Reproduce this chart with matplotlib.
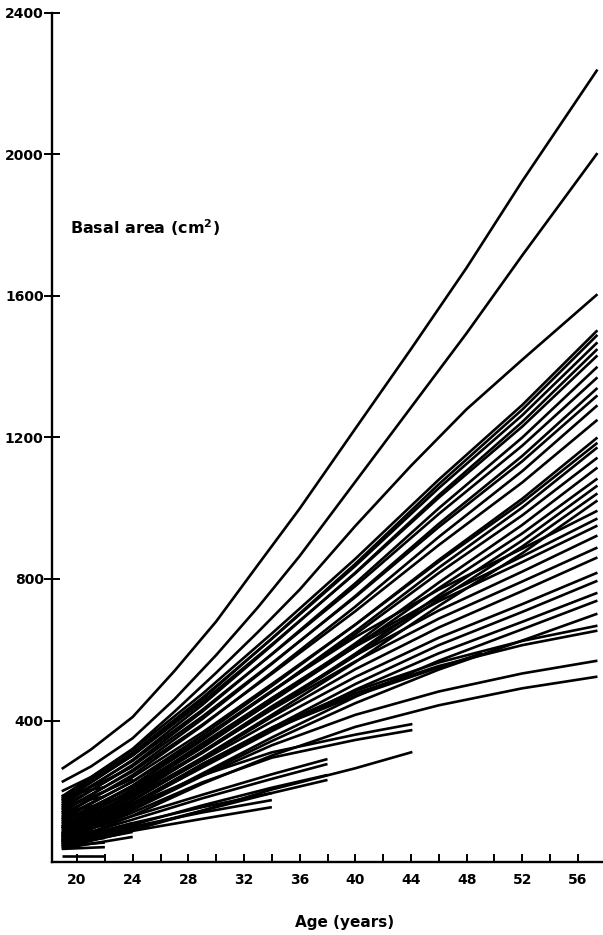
import matplotlib
matplotlib.use("Agg")
from matplotlib import pyplot as plt

plt.rcParams['font.family'] = ['DejaVu Sans']
plt.rcParams['font.weight'] = 'bold'
plt.rcParams['mathtext.fontset'] = 'dejavusans'

# ages (years) at which the long curves were read
AGES = [18.9, 24, 29, 34, 40, 46, 52, 57.4]
# the three largest trees, read more finely
AGES_TOP = [18.9, 21, 24, 27, 30, 33, 36, 40, 44, 48, 52, 57.4]

top_curves = [
    [263, 318, 410, 540, 680, 840, 999, 1225, 1450, 1680, 1925, 2240],
    [226, 270, 350, 460, 585, 720, 865, 1075, 1285, 1495, 1715, 2004],
    [200, 240, 320, 425, 535, 650, 770, 950, 1120, 1280, 1420, 1605],
]

# basal area (cm2) of the other trees followed up to the last measurement
long_curves = [
    [185, 317, 475, 646, 857, 1081, 1292, 1503],
    [170, 302, 460, 632, 843, 1068, 1279, 1490],
    [180, 309, 464, 631, 837, 1057, 1263, 1469],
    [160, 289, 444, 612, 818, 1037, 1244, 1450],
    [175, 301, 452, 615, 816, 1030, 1231, 1432],
    [150, 275, 425, 588, 788, 1000, 1200, 1400],
    [165, 286, 430, 587, 780, 984, 1177, 1370],
    [140, 260, 404, 560, 752, 956, 1148, 1340],
    [155, 271, 411, 562, 749, 947, 1133, 1319],
    [130, 246, 385, 536, 722, 919, 1105, 1291],
    [145, 256, 388, 532, 709, 896, 1073, 1250],
    [120, 228, 358, 498, 671, 854, 1027, 1200],
    [135, 240, 366, 503, 671, 849, 1017, 1185],
    [110, 216, 344, 482, 652, 832, 1002, 1172],
    [125, 227, 349, 481, 644, 817, 980, 1143],
    [100, 202, 323, 455, 618, 790, 953, 1115],
    [115, 212, 328, 454, 609, 774, 929, 1084],
    [95, 192, 308, 434, 589, 754, 909, 1064],
    [105, 199, 311, 433, 583, 742, 892, 1042],
    [90, 183, 295, 416, 565, 724, 873, 1022],
    [100, 216, 350, 484, 636, 770, 886, 993],
    [80, 196, 329, 463, 615, 748, 864, 971],
    [95, 206, 335, 463, 609, 737, 848, 951],
    [75, 185, 312, 440, 584, 711, 821, 923],
    [85, 190, 310, 431, 567, 688, 793, 889],
    [70, 173, 291, 410, 545, 663, 766, 861],
    [80, 176, 287, 397, 523, 634, 729, 818],
    [65, 160, 269, 379, 503, 613, 707, 795],
    [75, 164, 267, 370, 487, 590, 679, 761],
    [60, 148, 250, 352, 467, 569, 658, 739],
    [70, 152, 247, 342, 449, 544, 626, 702],
    [55, 159, 276, 380, 484, 564, 625, 668],
    [65, 165, 277, 377, 477, 554, 613, 654],
    [60, 147, 243, 330, 416, 482, 533, 569],
    [50, 131, 221, 301, 382, 443, 491, 524],
]

# trees whose record stops earlier
ages_49 = [18.9, 24, 29, 34, 40, 46, 49.1]
curves_49 = [[70, 165, 275, 375, 470, 550, 590]]

ages_44 = [18.9, 24, 29, 34, 40, 44.1]
curves_44 = [
    [75, 160, 245, 310, 360, 390],
    [60, 140, 225, 295, 345, 373],
    [55, 90, 145, 205, 265, 311],
]

ages_38 = [18.9, 24, 29, 34, 38]
curves_38 = [
    [70, 130, 190, 248, 291],
    [60, 120, 180, 235, 277],
    [50, 105, 160, 210, 246],
    [45, 95, 145, 195, 232],
]

ages_34 = [18.9, 24, 29, 34]
curves_34 = [
    [55, 110, 155, 195],
    [45, 100, 140, 175],
    [40, 88, 122, 155],
]

ages_24 = [18.9, 22, 24]
curves_24 = [
    [38, 58, 71], [45, 70, 85], [60, 90, 110], [80, 115, 140],
    [100, 140, 170], [120, 165, 200], [150, 200, 235], [175, 230, 270],
]

ages_22 = [18.9, 22]
curves_22 = [
    [37, 42], [45, 55], [55, 68], [65, 80], [75, 92], [85, 104],
    [95, 115], [110, 130], [125, 148], [140, 165], [160, 185], [186, 212],
    [18, 18],
]

fig = plt.figure(figsize=(6.03, 9.35), dpi=100)
ax = fig.add_axes([52 / 603, 73 / 935, 551 / 603, 849 / 935])

groups = [(AGES_TOP, top_curves), (AGES, long_curves), (ages_49, curves_49),
          (ages_44, curves_44), (ages_38, curves_38), (ages_34, curves_34),
          (ages_24, curves_24), (ages_22, curves_22)]
for ages, curves in groups:
    for vals in curves:
        ax.plot(ages, vals, color='black', lw=1.9, solid_capstyle='butt')

ax.set_xlim(18.2, 57.8)
ax.set_ylim(0, 2400)
ax.spines['top'].set_visible(False)
ax.spines['right'].set_visible(False)
ax.spines['left'].set_linewidth(1.7)
ax.spines['bottom'].set_linewidth(1.7)

ax.set_yticks([400, 800, 1200, 1600, 2000, 2400])
ax.tick_params(axis='y', direction='inout', length=12, width=1.4,
               labelsize=10, pad=0)
ax.set_xticks(list(range(20, 57, 4)))
ax.set_xticks(list(range(22, 55, 4)), minor=True)
ax.tick_params(axis='x', which='both', direction='in', length=6, width=1.4,
               labelsize=10, pad=8)
for lab in ax.get_xticklabels() + ax.get_yticklabels():
    lab.set_fontweight('bold')

ax.text(19.5, 1792, r'Basal area (cm$^{\mathbf{2}}$)', fontsize=11.5,
        fontweight='bold', va='center', ha='left')
fig.text(345 / 603, 1 - 922 / 935, 'Age (years)', fontsize=11,
         fontweight='bold', ha='center', va='center')

fig.savefig('out.png', dpi=100)
